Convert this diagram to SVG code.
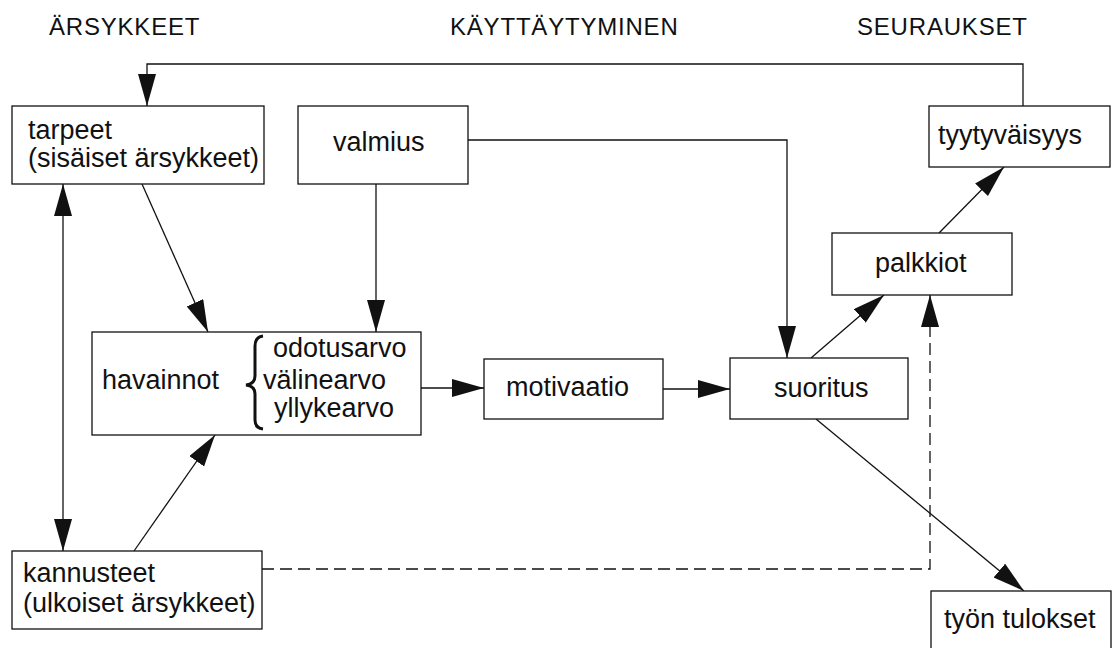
<svg xmlns="http://www.w3.org/2000/svg" width="1114" height="648" viewBox="0 0 1114 648">
<style>
  .bg { fill: #ffffff; }
  .box { fill: #ffffff; stroke: #111; stroke-width: 1.3; }
  .t { font-family: "Liberation Sans", Arial, sans-serif; font-size: 27px; fill: #111; }
  .h { font-family: "Liberation Sans", Arial, sans-serif; font-size: 24px; letter-spacing: 0.8px; fill: #111; }
  .c { fill: none; stroke: #111; stroke-width: 1.3; }
  .d { stroke-dasharray: 12 6; }
</style>
<defs>
  <marker id="ah" markerUnits="userSpaceOnUse" markerWidth="34" markerHeight="20" refX="32" refY="9" orient="auto-start-reverse" viewBox="0 0 34 20">
    <path d="M0,0 L32,9 L0,18 z" fill="#111"/>
  </marker>
</defs>
<rect class="bg" x="0" y="0" width="1114" height="648"/>

<g id="titles">
  <text class="h" x="49" y="35">ÄRSYKKEET</text>
  <text class="h" x="450" y="35">KÄYTTÄYTYMINEN</text>
  <text class="h" x="857" y="35">SEURAUKSET</text>
</g>

<g id="connectors">
  <path class="c" d="M1023,106 V64 H147 V106" marker-end="url(#ah)"/>
  <path class="c" d="M63,184 V551" marker-start="url(#ah)" marker-end="url(#ah)"/>
  <path class="c" d="M142,184 L208,332" marker-end="url(#ah)"/>
  <path class="c" d="M376,184 V332" marker-end="url(#ah)"/>
  <path class="c" d="M468,140 H787 V358" marker-end="url(#ah)"/>
  <path class="c" d="M134,551 L215,435" marker-end="url(#ah)"/>
  <path class="c" d="M421,388 H484" marker-end="url(#ah)"/>
  <path class="c" d="M663,389 H730" marker-end="url(#ah)"/>
  <path class="c" d="M811,358 L884,295" marker-end="url(#ah)"/>
  <path class="c" d="M939,233 L1004,167" marker-end="url(#ah)"/>
  <path class="c" d="M816,419 L1024,591" marker-end="url(#ah)"/>
  <path class="c d" d="M262,569 H930 V295" marker-end="url(#ah)"/>
</g>

<g id="tarpeet">
  <rect class="box" x="12" y="106" width="252" height="78"/>
  <text class="t" x="28" y="139">tarpeet</text>
  <text class="t" x="28" y="167">(sisäiset ärsykkeet)</text>
</g>

<g id="valmius">
  <rect class="box" x="298" y="106" width="170" height="78"/>
  <text class="t" x="333" y="151">valmius</text>
</g>

<g id="tyytyvaisyys">
  <rect class="box" x="929" y="106" width="181" height="61"/>
  <text class="t" x="938" y="144">tyytyväisyys</text>
</g>

<g id="palkkiot">
  <rect class="box" x="832" y="233" width="180" height="62"/>
  <text class="t" x="875" y="272">palkkiot</text>
</g>

<g id="havainnot">
  <rect class="box" x="92" y="332" width="329" height="103"/>
  <text class="t" x="102" y="389">havainnot</text>
  <path d="M263,336 Q255,337 255,346 L255,376 Q255,384 246,385 Q255,386 255,394 L255,420 Q255,428 263,429" fill="none" stroke="#111" stroke-width="3"/>
  <text class="t" x="273" y="357">odotusarvo</text>
  <text class="t" x="263" y="389">välinearvo</text>
  <text class="t" x="274" y="417">yllykearvo</text>
</g>

<g id="motivaatio">
  <rect class="box" x="484" y="359" width="179" height="60"/>
  <text class="t" x="506" y="396">motivaatio</text>
</g>

<g id="suoritus">
  <rect class="box" x="730" y="358" width="178" height="61"/>
  <text class="t" x="774" y="397">suoritus</text>
</g>

<g id="kannusteet">
  <rect class="box" x="12" y="551" width="250" height="78"/>
  <text class="t" x="23" y="582">kannusteet</text>
  <text class="t" x="23" y="612">(ulkoiset ärsykkeet)</text>
</g>

<g id="tyon-tulokset">
  <rect class="box" x="931" y="591" width="180" height="70"/>
  <text class="t" x="944" y="628">työn tulokset</text>
</g>
</svg>
